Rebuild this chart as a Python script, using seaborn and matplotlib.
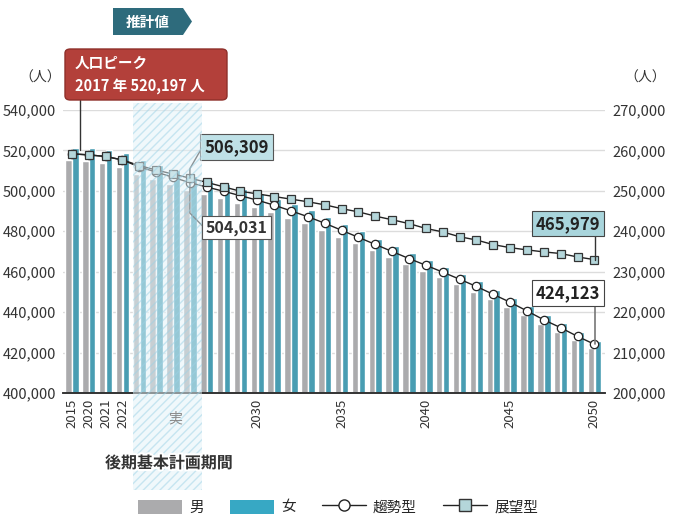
import matplotlib
matplotlib.use('Agg')
import numpy as np
import pandas as pd
import matplotlib.pyplot as plt
import seaborn as sns
from matplotlib.patches import Rectangle, Polygon, FancyBboxPatch, Patch
from matplotlib.lines import Line2D
import matplotlib.transforms as mtransforms
import matplotlib.patheffects as pe

# data
years = ['2015'] + [str(y) for y in range(2020, 2051)]
tick_years = ['2015', '2020', '2021', '2022', '2030', '2035', '2040', '2045', '2050']

trend = [518300, 517800, 517000, 515300, 511800, 509300, 506700, 504031,
         501900, 499800, 497600, 495400, 492900, 490100, 487200, 484000,
         480500, 477000, 473500, 470000, 466500, 463200, 459800, 456300,
         452700, 448800, 444900, 440600, 436200, 432300, 428000, 424123]
outlook = [518300, 517800, 517000, 515300, 512500, 510300, 508300, 506309,
           504200, 502000, 499800, 498500, 497200, 495900, 494600, 493100,
           491200, 489600, 487500, 485700, 483800, 481400, 479700, 477300,
           475700, 473400, 471900, 470800, 469800, 469000, 467300, 465979]
male = [257600, 257300, 256900, 256000, 254200, 252900, 251600, 250300,
        249200, 248200, 247100, 246000, 244800, 243400, 242000, 240400,
        238700, 237000, 235300, 233600, 231900, 230300, 228600, 226900,
        225100, 223200, 221300, 219200, 217000, 215100, 213000, 211200]
female = [260700, 260500, 260100, 259300, 257600, 256400, 255100, 253700,
          252700, 251600, 250500, 249400, 248100, 246700, 245200, 243600,
          241800, 240000, 238200, 236400, 234600, 232900, 231200, 229400,
          227600, 225600, 223600, 221400, 219200, 217200, 215000, 212900]

GRAY = '#ababad'
BLUE = '#37a8c4'
W, H = 673, 520

sns.set_style('white')
plt.rcParams['font.family'] = ['Noto Sans CJK JP', 'DejaVu Sans']

fig = plt.figure(figsize=(W / 100, H / 100), dpi=100)
ax = fig.add_axes([63 / W, 1 - 393 / H, (605 - 63) / W, (393 - 110) / H])

df = pd.DataFrame({
    'year': years * 2,
    'sex': ['男'] * len(years) + ['女'] * len(years),
    'value': male + female,
})
sns.barplot(data=df, x='year', y='value', hue='sex', order=years,
            hue_order=['男', '女'], palette={'男': GRAY, '女': BLUE},
            width=0.82, gap=0.06, legend=False, ax=ax, zorder=2)

ax.set_ylim(200000, 270000)
ax.set_yticks(range(200000, 270001, 10000))
ax.set_yticklabels([f'{v:,}' for v in range(200000, 270001, 10000)])
ax.grid(axis='y', color='#dcdcdc', lw=1, zorder=0)
ax.set_axisbelow(True)
ax.set_xlabel('')
ax.set_ylabel('')

idx = np.arange(len(years))
ax2 = ax.twinx()
sns.lineplot(x=idx, y=trend, ax=ax2, color='#222222', lw=1, marker='o',
             markersize=6, markerfacecolor='white', markeredgecolor='#222222',
             markeredgewidth=0.9, zorder=4)
sns.lineplot(x=idx, y=outlook, ax=ax2, color='#222222', lw=1, marker='s',
             markersize=6, markerfacecolor='#b4d6da', markeredgecolor='#333333',
             markeredgewidth=0.9, zorder=4)
ax2.set_ylim(400000, 540000)
ax2.set_yticks(range(400000, 540001, 20000))
ax2.set_yticklabels([f'{v:,}' for v in range(400000, 540001, 20000)])
ax2.set_ylabel('')

# left ticks belong to the total lines, right ticks to the bars
ax.yaxis.tick_right()
ax2.yaxis.tick_left()

ax.set_xlim(-0.53, 31.63)
ax.set_xticks([years.index(t) for t in tick_years])
ax.set_xticklabels(tick_years, rotation=90)

for a in (ax, ax2):
    for s in ('left', 'right', 'top'):
        a.spines[s].set_visible(False)
    a.spines['bottom'].set_color('#333333')
    a.spines['bottom'].set_linewidth(1.2)
    a.tick_params(length=0, labelsize=10.5, colors='#333333', pad=5)
ax.tick_params(axis='x', labelsize=9.5, pad=4)

# unit labels
fig.text(40 / W, 1 - 78 / H, '（人）', ha='center', va='center', fontsize=10, color='#333')
fig.text(645 / W, 1 - 78 / H, '（人）', ha='center', va='center', fontsize=10, color='#333')

# hatched plan period
blend = mtransforms.blended_transform_factory(ax.transData, fig.transFigure)
fig.add_artist(Rectangle((3.6, 1 - 490 / H), 4.1, (490 - 103) / H, transform=blend,
                         facecolor='#e3f3f9', edgecolor='#9dd2e6', hatch='////',
                         lw=0, alpha=0.5, zorder=1))
fig.text(175 / W, 1 - 418 / H, '実', ha='center', va='center', fontsize=10, color='#888')
fig.text(169 / W, 1 - 463 / H, '後期基本計画期間', ha='center', va='center',
         fontsize=11.5, fontweight='bold', color='#333',
         path_effects=[pe.withStroke(linewidth=3, foreground='white')], zorder=3)

# 推計値 tag
pts = [(113, 8), (183, 8), (192, 21.5), (183, 35), (113, 35)]
fig.add_artist(Polygon([(x / W, 1 - y / H) for x, y in pts], closed=True,
                       transform=fig.transFigure, facecolor='#2e6b7c', lw=0))
fig.text(148 / W, 1 - 21.5 / H, '推計値', ha='center', va='center',
         fontsize=10.5, fontweight='bold', color='white')

# peak box
fig.add_artist(FancyBboxPatch((65 / W, 1 - 100 / H), 162 / W, 51 / H,
                              boxstyle='round,pad=0,rounding_size=0.008',
                              transform=fig.transFigure, facecolor='#b3403a',
                              edgecolor='#8e2f2a', lw=1))
fig.text(75 / W, 1 - 63 / H, '人口ピーク', ha='left', va='center',
         fontsize=10.5, fontweight='bold', color='white')
fig.text(75 / W, 1 - 86 / H, '2017 年 520,197 人', ha='left', va='center',
         fontsize=10.5, fontweight='bold', color='white')
ax2.plot([0.45, 0.45], [520197, 545000], color='#333', lw=1, clip_on=False, zorder=5)

# value callouts
ax2.plot([7, 7, 7.75], [506309, 511000, 521800], color='#333', lw=1, zorder=5)
ax2.text(7.85, 521800, '506,309', ha='left', va='center', fontsize=12,
         fontweight='bold', color='#222', zorder=6,
         bbox=dict(boxstyle='square,pad=0.25', facecolor='#bfe1e7', edgecolor='#555', lw=0.8))
ax2.plot([7, 7, 7.85], [504031, 489000, 481800], color='#333', lw=1, zorder=5)
ax2.text(7.95, 481700, '504,031', ha='left', va='center', fontsize=11.5,
         fontweight='bold', color='#333', zorder=6,
         bbox=dict(boxstyle='square,pad=0.22', facecolor='white', edgecolor='#555', lw=0.8))

ax2.plot([31.05, 31.05], [465979, 478500], color='#333', lw=1, zorder=5)
ax2.text(29.45, 483700, '465,979', ha='center', va='center', fontsize=12,
         fontweight='bold', color='#222', zorder=6,
         bbox=dict(boxstyle='square,pad=0.22', facecolor='#a9d5dc', edgecolor='#444', lw=0.8))
ax2.plot([31.05, 31.05], [424123, 444000], color='#777', lw=1.2, zorder=5)
ax2.text(29.45, 449500, '424,123', ha='center', va='center', fontsize=12,
         fontweight='bold', color='#222', zorder=6,
         bbox=dict(boxstyle='square,pad=0.22', facecolor='white', edgecolor='#444', lw=0.8))

# legend
handles = [
    Patch(facecolor=GRAY, edgecolor='none', label='男'),
    Patch(facecolor=BLUE, edgecolor='none', label='女'),
    Line2D([], [], color='#222', lw=1, marker='o', markersize=8,
           markerfacecolor='white', markeredgecolor='#222', label='趨勢型'),
    Line2D([], [], color='#222', lw=1, marker='s', markersize=8,
           markerfacecolor='#b4d6da', markeredgecolor='#333', label='展望型'),
]
fig.legend(handles=handles, loc='center', bbox_to_anchor=(338 / W, 1 - 507 / H),
           ncol=4, frameon=False, fontsize=10.5, handlelength=3.0,
           handleheight=1.1, columnspacing=1.8, handletextpad=0.5)

fig.savefig('out.png', dpi=100)
